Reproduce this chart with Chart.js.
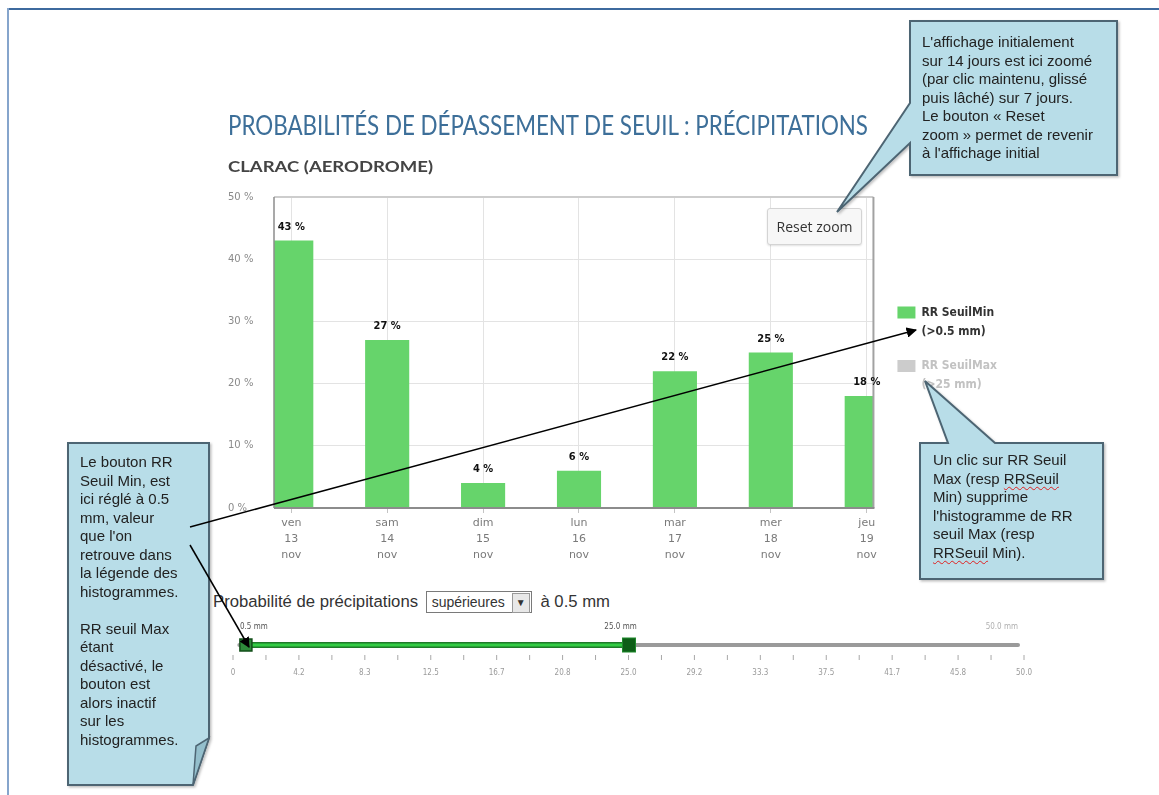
<!DOCTYPE html>
<html lang="fr">
<head>
<meta charset="utf-8">
<title>Probabilités de dépassement de seuil : précipitations</title>
<script src="https://cdn.jsdelivr.net/npm/chart.js@4.4.1/dist/chart.umd.min.js"></script>
<style>
  body { margin: 0; width: 1159px; height: 795px; overflow: hidden; position: relative; background: #fff; font-family: 'Liberation Sans', Arial, sans-serif; }
  #frameTop { position: absolute; left: 7px; top: 8px; width: 1152px; height: 2px; background: #3d6a9e; }
  #frameLeft { position: absolute; left: 7px; top: 8px; width: 2px; height: 787px; background: #86a5cc; }
  #chartBox { position: absolute; left: 220px; top: 185px; width: 800px; height: 383px; }
  #resetZoom { position: absolute; left: 767px; top: 208px; width: 93px; height: 35px; border: 1px solid #d4d4d4; border-radius: 3px;
    background: #f7f7f7; box-shadow: 0 1px 2px rgba(0,0,0,0.12); font: 14px 'Open Sans', sans-serif; color: #333; line-height: 35px; text-align: center; z-index: 2; }
  #threshold { position: absolute; left: 213px; top: 591px; font-size: 16.7px; color: #333; line-height: 22px; white-space: nowrap; z-index: 2; }
  #threshold .sel { display: inline-block; vertical-align: top; height: 20px; border: 1px solid #7a7a7a; font-size: 14px; line-height: 20px; padding-left: 5px; margin: 0 4px 0 3px; background: #fff; }
  #threshold .btn { display: inline-block; width: 16px; height: 18px; margin: 1px 1px 0 7px; border: 1px solid #999; background: #e8e8e8; font-size: 10px; line-height: 18px; text-align: center; vertical-align: top; }
  svg#overlay { position: absolute; left: 0; top: 0; z-index: 3; }
  .note { position: absolute; z-index: 4; font-size: 15px; line-height: 18.5px; color: #222; white-space: nowrap; }
  .spell { text-decoration: underline wavy #e02020; text-decoration-thickness: 1px; text-underline-offset: 2px; }
</style>
</head>
<body>
<div id="frameTop"></div>
<div id="frameLeft"></div>

<div id="chartBox"><canvas id="rrChart"></canvas></div>
<div id="resetZoom">Reset zoom</div>

<div id="threshold">Probabilité de précipitations <span class="sel">supérieures<span class="btn">&#9660;</span></span> à 0.5 mm</div>

<svg id="overlay" width="1159" height="795"></svg>

<div class="note" style="left:922px; top:33px;">L'affichage initialement<br>sur 14 jours est ici zoomé<br>(par clic maintenu, glissé<br>puis lâché) sur 7 jours.<br>Le bouton « Reset<br>zoom » permet de revenir<br>à l'affichage initial</div>
<div class="note" style="left:933px; top:451px;">Un clic sur RR Seuil<br>Max (resp <span class="spell">RRSeuil</span><br>Min) supprime<br>l'histogramme de RR<br>seuil Max (resp<br><span class="spell">RRSeuil</span> Min).</div>
<div class="note" style="left:80px; top:453px;">Le bouton RR<br>Seuil Min, est<br>ici réglé à 0.5<br>mm, valeur<br>que l'on<br>retrouve dans<br>la légende des<br>histogrammes.<br><br>RR seuil Max<br>étant<br>désactivé, le<br>bouton est<br>alors inactif<br>sur les<br>histogrammes.</div>

<script>
const days = ['ven', 'sam', 'dim', 'lun', 'mar', 'mer', 'jeu'];
const dates = ['13', '14', '15', '16', '17', '18', '19'];
const months = ['nov', 'nov', 'nov', 'nov', 'nov', 'nov', 'nov'];
const rrSeuilMin = [43, 27, 4, 6, 22, 25, 18];
const rrSeuilMax = [];   // série désactivée dans la légende, aucune barre affichée
const yTicks = [0, 10, 20, 30, 40, 50];
const legendLabels = [['RR SeuilMin', '(>0.5 mm)'], ['RR SeuilMax', '(>25 mm)']];
const sliderLabels = ['0', '4.2', '8.3', '12.5', '16.7', '20.8', '25.0', '29.2', '33.3', '37.5', '41.7', '45.8', '50.0'];
const sliderHandles = [0.5, 25.0];

const title = 'PROBABILITÉS DE DÉPASSEMENT DE SEUIL : PRÉCIPITATIONS';
const subtitle = 'CLARAC (AERODROME)';

const green = '#66d46b';
const narrow = "'Liberation Sans Narrow', 'DejaVu Sans Condensed', sans-serif";

Chart.defaults.font.family = "'DejaVu Sans', sans-serif";

// cadre gris autour de la zone de tracé
const plotFrame = {
  id: 'plotFrame',
  afterDatasetsDraw(chart) {
    const {ctx, chartArea: a} = chart;
    const seg = (x1, y1, x2, y2, color, w) => {
      ctx.beginPath();
      ctx.moveTo(x1, y1);
      ctx.lineTo(x2, y2);
      ctx.strokeStyle = color;
      ctx.lineWidth = w;
      ctx.stroke();
    };
    ctx.save();
    seg(a.left, a.top, a.right, a.top, '#cdcdcd', 2);
    seg(a.right, a.top, a.right, a.bottom, '#a2a2a2', 2);
    seg(a.left, a.bottom, a.right + 1, a.bottom, '#8c8c8c', 2);
    seg(a.left, a.top, a.left, a.bottom, '#8c8c8c', 1.5);
    ctx.restore();
  }
};

// valeurs au-dessus des barres
const valueLabels = {
  id: 'valueLabels',
  afterDatasetsDraw(chart) {
    const {ctx} = chart;
    chart.data.datasets.forEach((ds, i) => {
      if (!chart.isDatasetVisible(i)) return;
      chart.getDatasetMeta(i).data.forEach((bar, j) => {
        ctx.save();
        ctx.font = 'bold 11px ' + narrow;
        ctx.fillStyle = '#111';
        ctx.textAlign = 'center';
        ctx.textBaseline = 'alphabetic';
        ctx.fillText(ds.data[j].y + ' %', bar.x, bar.y - 11);
        ctx.restore();
      });
    });
  }
};

new Chart(document.getElementById('rrChart'), {
  type: 'bar',
  data: {
    datasets: [
      {
        label: legendLabels[0].join(' '),
        data: rrSeuilMin.map((v, i) => ({x: i, y: v})),
        backgroundColor: green,
        borderWidth: 0,
        barPercentage: 0.46,
        categoryPercentage: 1
      },
      {
        label: legendLabels[1].join(' '),
        data: rrSeuilMax.map((v, i) => ({x: i, y: v})),
        backgroundColor: '#5c9bd1',
        borderWidth: 0,
        barPercentage: 0.46,
        categoryPercentage: 1,
        hidden: true
      }
    ]
  },
  options: {
    responsive: true,
    maintainAspectRatio: false,
    animation: false,
    layout: { padding: { top: 12, right: 13, bottom: 0, left: 8 } },
    scales: {
      x: {
        type: 'linear',
        offset: false,
        min: -0.18,
        max: 6.07,
        afterBuildTicks: scale => { scale.ticks = days.map((d, i) => ({value: i})); },
        afterFit: scale => { scale.height = 60; },
        grid: { offset: false, color: '#e3e3e3', tickColor: '#c4c4c4', tickLength: 5 },
        border: { display: false },
        ticks: {
          autoSkip: false,
          maxRotation: 0,
          padding: 2,
          color: '#7a7a7a',
          font: { size: 11, lineHeight: 1.45 },
          callback: v => [days[v], dates[v], months[v]]
        }
      },
      y: {
        min: 0,
        max: 50,
        afterBuildTicks: scale => { scale.ticks = yTicks.map(v => ({value: v})); },
        afterFit: scale => { scale.width = 46; },
        grid: { color: '#e3e3e3', drawTicks: false },
        border: { display: false },
        ticks: {
          padding: 0,
          crossAlign: 'far',
          color: '#8a8a8a',
          font: { size: 10 },
          callback: v => v + ' %'
        }
      },
      // marge vide entre la zone de tracé et la légende
      gap: {
        type: 'linear',
        position: 'right',
        afterFit: scale => { scale.width = 9; },
        grid: { display: false },
        border: { display: false },
        ticks: { display: false }
      }
    },
    plugins: {
      legend: {
        position: 'right',
        align: 'center',
        fullSize: false,
        labels: {
          boxWidth: 18,
          boxHeight: 12,
          padding: 15,
          font: { family: narrow, size: 12, weight: 'bold', lineHeight: 1.6 },
          generateLabels: chart => chart.data.datasets.map((ds, i) => {
            const on = chart.isDatasetVisible(i);
            return {
              text: legendLabels[i],
              fillStyle: on ? ds.backgroundColor : '#cccccc',
              strokeStyle: 'rgba(0,0,0,0)',
              lineWidth: 0,
              fontColor: on ? '#333333' : '#c2c2c2',
              hidden: false,
              datasetIndex: i
            };
          })
        }
      },
      tooltip: { enabled: true }
    }
  },
  plugins: [plotFrame, valueLabels]
});

// titres, bulles, flèches et curseur de seuil
const svg = document.getElementById('overlay');
const sl = { x0: 233, x1: 1024, y: 645, max: 50 };
const sx = v => sl.x0 + v / sl.max * (sl.x1 - sl.x0);

let s = `
<defs>
  <marker id="arrow" viewBox="0 0 10 10" refX="9" refY="5" markerWidth="7" markerHeight="7" orient="auto-start-reverse">
    <path d="M0,0 L10,5 L0,10 Z" fill="#000"/>
  </marker>
  <filter id="shadow" x="-10%" y="-10%" width="130%" height="130%">
    <feDropShadow dx="1.5" dy="1.5" stdDeviation="1" flood-color="#000" flood-opacity="0.25"/>
  </filter>
</defs>
<text x="228" y="135" font-family="Lato, sans-serif" font-size="26" fill="#3d6f99" textLength="640" lengthAdjust="spacingAndGlyphs">${title}</text>
<text x="228" y="172" font-family="Lato, sans-serif" font-weight="bold" font-size="15.5" fill="#444" textLength="205" lengthAdjust="spacingAndGlyphs">${subtitle}</text>
`;

// curseur
s += `<line x1="${sx(0.4)}" y1="${sl.y}" x2="${sl.x1 - 6}" y2="${sl.y}" stroke="#9a9a9a" stroke-width="4" stroke-linecap="round"/>`;
s += `<line x1="${sx(sliderHandles[0])}" y1="${sl.y}" x2="${sx(sliderHandles[1])}" y2="${sl.y}" stroke="#1f7a2a" stroke-width="6"/>`;
s += `<line x1="${sx(sliderHandles[0])}" y1="${sl.y}" x2="${sx(sliderHandles[1])}" y2="${sl.y}" stroke="#33cc44" stroke-width="3"/>`;
for (let k = 0; k <= 24; k++) {
  const x = sx(k * sl.max / 24);
  s += `<line x1="${x}" y1="655" x2="${x}" y2="660" stroke="#a8a8a8" stroke-width="1"/>`;
}
sliderLabels.forEach((t, i) => {
  s += `<text x="${sx(i * sl.max / 12)}" y="675" font-family="${narrow}" font-size="8" fill="#9a9a9a" text-anchor="middle">${t}</text>`;
});
const h0 = sx(sliderHandles[0]), h1 = sx(sliderHandles[1]);
s += `<rect x="${h0 - 1}" y="639" width="12" height="12" fill="#2e8b3a" stroke="#114d18" stroke-width="1.5"/>`;
s += `<rect x="${h1 - 6}" y="638" width="13" height="14" fill="#0d5e17" stroke="#1f8a2c" stroke-width="1"/>`;
s += `<text x="${h0 - 1}" y="629" font-family="${narrow}" font-size="8" fill="#555">0.5 mm</text>`;
s += `<text x="${h1 - 8}" y="629" font-family="${narrow}" font-size="8" fill="#555" text-anchor="middle">25.0 mm</text>`;
s += `<text x="${sl.x1 - 6}" y="629" font-family="${narrow}" font-size="8" fill="#b0b0b0" text-anchor="end">50.0 mm</text>`;

// bulles
const bubble = 'fill="#b8dde8" stroke="#4d6573" stroke-width="2" stroke-linejoin="miter" filter="url(#shadow)"';
s += `<path d="M910,21 H1117 V175 H910 V143 L837,212 L910,103 Z" ${bubble}/>`;
s += `<path d="M920,443 H948 L925,381 L995,443 H1103 V579 H920 Z" ${bubble}/>`;
s += `<path d="M68,443 H209 V738 L193,785 H68 Z" ${bubble}/>`;
s += `<path d="M209,738 L196,746 L193,785 Z" fill="#94bfcc" stroke="#4d6573" stroke-width="1.5"/>`;

// flèches
s += `<line x1="190" y1="527" x2="916" y2="330" stroke="#000" stroke-width="1.5" marker-end="url(#arrow)"/>`;
s += `<line x1="190" y1="545" x2="249" y2="647" stroke="#000" stroke-width="1.5" marker-end="url(#arrow)"/>`;

svg.innerHTML = s;
</script>
</body>
</html>
